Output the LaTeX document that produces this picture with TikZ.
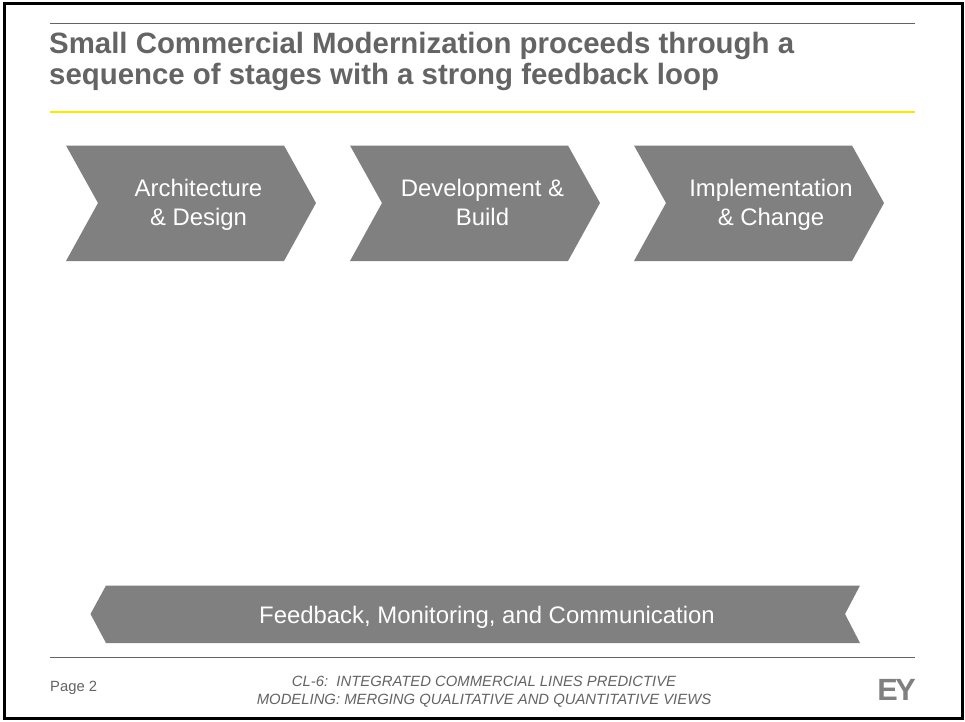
\documentclass[tikz,border=0pt]{standalone}
\usepackage{fontspec}
\setmainfont{Liberation Sans}
\definecolor{eygrey}{HTML}{808080}
\definecolor{eytext}{HTML}{646464}
\definecolor{eyyellow}{HTML}{FFE600}
\definecolor{eyrule}{HTML}{646464}
\tikzset{
  stagefill/.style={fill=eygrey,draw=none},
  stagetext/.style={text=white,font=\fontsize{23.9}{29.5}\selectfont,align=center,inner sep=0pt},
  titletext/.style={text=eytext,font=\fontsize{29.4}{31}\selectfont\bfseries,align=left,anchor=north west,inner sep=0pt},
  foottext/.style={text=eytext,font=\fontsize{14.85}{18}\selectfont\itshape,align=center,inner sep=0pt},
  pagetext/.style={text=eytext,font=\fontsize{14.8}{16}\selectfont,inner sep=0pt},
}
\begin{document}
\begin{tikzpicture}[x=1pt,y=-1pt]
\useasboundingbox (0,0) rectangle (965,721);
\fill[white] (0,0) rectangle (965,721);
\draw[black,line width=3pt] (4,3.5) rectangle (962,718);
\draw[eyrule,line width=1pt] (50,23.5) -- (915,23.5);
\draw[eyyellow,line width=2pt] (50,112) -- (915,112);
\draw[eyrule,line width=1pt] (50,657.5) -- (915,657.5);
\node[titletext] (title) at (49,32) {Small Commercial Modernization proceeds through a\\sequence of stages with a strong feedback loop};
\foreach \n/\x/\tx/\yy/\t in {a/0/198.5/205/{Architecture\\\& Design},b/284/482.5/202.5/{Development \&\\Build},c/568/771/205/{Implementation\\\& Change}}{
  \fill[stagefill] (66+\x,145.5) -- (284+\x,145.5) -- (316+\x,203) -- (284+\x,261) -- (66+\x,261) -- (98+\x,203) -- cycle;
  \node[stagetext] (\n) at (\tx,\yy) {\t};
}
\fill[stagefill] (106,585.5) -- (860,585.5) -- (845,614) -- (860,643) -- (106,643) -- (90.5,614) -- cycle;
\node[stagetext] (fb) at (487,617) {Feedback, Monitoring, and Communication};
\node[pagetext,anchor=west] (page) at (50,688) {Page 2};
\node[foottext] (foot) at (484,692) {CL-6:\ \ INTEGRATED COMMERCIAL LINES PREDICTIVE\\MODELING: MERGING QUALITATIVE AND QUANTITATIVE VIEWS};
\node[text=eygrey,font=\fontsize{30.7}{30}\selectfont\bfseries,inner sep=0pt] (ey) at (896.5,690) {E\kern-2.5ptY};
\end{tikzpicture}
\end{document}
